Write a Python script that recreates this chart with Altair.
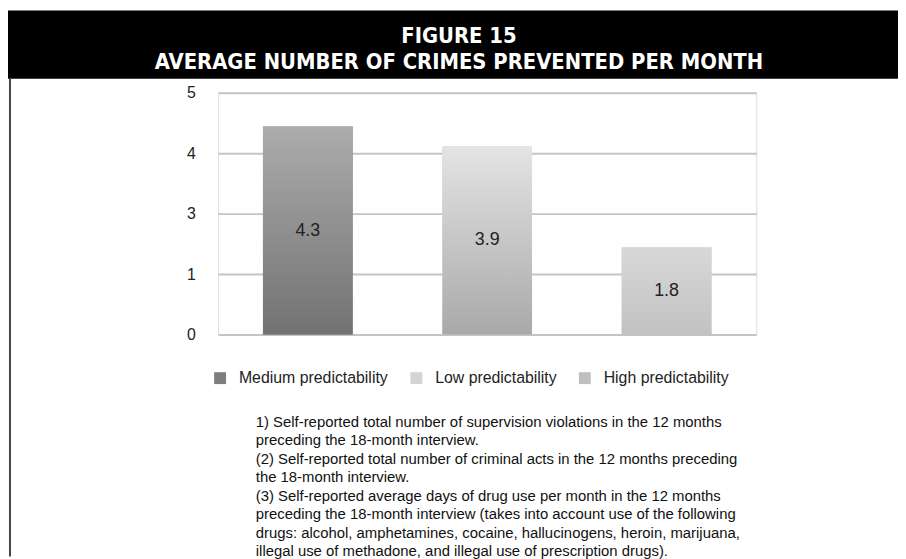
import altair as alt
import pandas as pd

# ---- data ----
categories = ["Medium predictability", "Low predictability", "High predictability"]
values = [4.3, 3.9, 1.8]
y_ticks = [0, 1.25, 2.5, 3.75, 5]
title_lines = ["FIGURE 15", "AVERAGE NUMBER OF CRIMES PREVENTED PER MONTH"]
footnote_lines = [
    "1) Self-reported total number of supervision violations in the 12 months",
    "preceding the 18-month interview.",
    "(2) Self-reported total number of criminal acts in the 12 months preceding",
    "the 18-month interview.",
    "(3) Self-reported average days of drug use per month in the 12 months",
    "preceding the 18-month interview (takes into account use of the following",
    "drugs: alcohol, amphetamines, cocaine, hallucinogens, heroin, marijuana,",
    "illegal use of methadone, and illegal use of prescription drugs).",
]

df = pd.DataFrame({"cat": categories, "value": values})
one = pd.DataFrame({"a": [0]})

# ---- layout / styles ----
W, H = 543, 244
PAD = {"left": 212, "top": 83, "right": 143, "bottom": 224}


def px(x):
    return x - 8 - PAD["left"]


def py(y):
    return y - 8 - PAD["top"]


legend_colors = ["#7e7e7e", "#d4d4d4", "#bfbfbf"]
gradients = {
    "Medium predictability": ("#acacac", "#727272"),
    "Low predictability": ("#e4e4e4", "#a9a9a9"),
    "High predictability": ("#d8d8d8", "#c2c2c2"),
}
FONT = "Liberation Sans"
TFONT = "DejaVu Sans Condensed"

x_enc = alt.X("cat:N", sort=categories, axis=None,
              scale=alt.Scale(paddingInner=0.5, paddingOuter=0.25))
y_enc = alt.Y("value:Q", scale=alt.Scale(domain=[0, 5], nice=False),
              axis=alt.Axis(values=y_ticks, labelExpr="round(datum.value)", title=None,
                            domain=False, ticks=False, gridColor="#c4c4c4", gridWidth=2,
                            labelFontSize=16, labelColor="#222222", labelPadding=23,
                            labelFont=FONT))

base = alt.Chart(df)

bars = base.mark_bar().encode(
    x=x_enc, y=y_enc,
    color=alt.Color("cat:N", sort=categories,
                    scale=alt.Scale(domain=categories, range=legend_colors),
                    legend=alt.Legend(title=None, orient="none", legendX=px(214),
                                      legendY=py(371),
                                      direction="horizontal", symbolType="square",
                                      symbolSize=144, symbolStrokeWidth=0,
                                      labelFontSize=16, labelFont=FONT,
                                      labelColor="#222222", columnPadding=20,
                                      labelOffset=11, symbolOpacity=1)),
)

overlays = []
for cat in categories:
    top, bot = gradients[cat]
    grad = alt.LinearGradient(gradient="linear", x1=0, y1=0, x2=0, y2=1,
                              stops=[alt.GradientStop(offset=0, color=top),
                                     alt.GradientStop(offset=1, color=bot)])
    overlays.append(
        base.transform_filter(alt.datum.cat == cat)
        .mark_bar(color=grad)
        .encode(x=x_enc, y=alt.Y("value:Q"))
    )

labels = base.transform_calculate(half="datum.value / 2").mark_text(
    fontSize=18, font=FONT, color="#222222", baseline="middle"
).encode(x=x_enc, y=alt.Y("half:Q"), text=alt.Text("value:Q", format=".1f"))

header = alt.Chart(one).mark_rect(color="black").encode(
    x=alt.value(px(8)), x2=alt.value(px(906)), y=alt.value(py(8)), y2=alt.value(py(77)))

border = alt.Chart(one).mark_rule(color="#444444", strokeWidth=2).encode(
    x=alt.value(px(10)), y=alt.value(py(77)), y2=alt.value(py(559)))

t1 = alt.Chart(one).mark_text(text=title_lines[0], color="white", fontSize=22,
                              fontWeight="bold", font=TFONT,
                              align="center", baseline="alphabetic").encode(
    x=alt.value(px(463)), y=alt.value(py(41)))
t2 = alt.Chart(one).mark_text(text=title_lines[1], color="white", fontSize=22,
                              fontWeight="bold", font=TFONT,
                              align="center", baseline="alphabetic").encode(
    x=alt.value(px(463)), y=alt.value(py(67)))

foot = alt.Chart(one).mark_text(text=footnote_lines, color="#111111", fontSize=15,
                                font=FONT, align="left", baseline="alphabetic",
                                lineHeight=18.7).encode(
    x=alt.value(px(258)), y=alt.value(py(428)))

chart = alt.layer(header, border, bars, *overlays, labels, t1, t2, foot).properties(
    width=W, height=H, padding=PAD, autosize=alt.AutoSizeParams(type="none")
).configure_view(stroke=None).configure(background="white")

chart.save("out.html", embed_options={"renderer": "svg", "actions": False})
